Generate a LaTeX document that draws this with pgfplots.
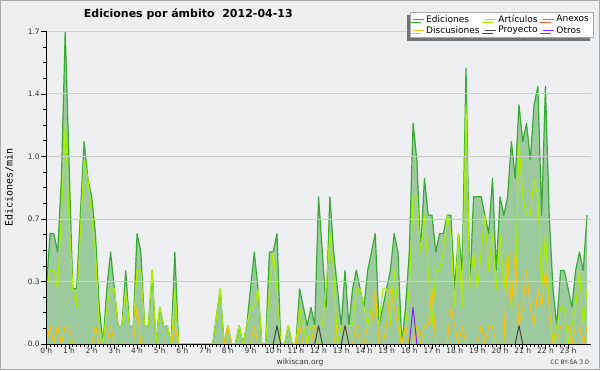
\documentclass[border=0pt]{standalone}
\usepackage{fontspec}
\setmainfont{DejaVu Sans}
\setmonofont{DejaVu Sans Mono}
\usepackage{pgfplots}
\usepackage{pgfplotstable}
\pgfplotsset{compat=1.18}
\usetikzlibrary{shadows}
\definecolor{Bg}{RGB}{238,239,241}
\definecolor{Bord}{RGB}{170,170,170}
\definecolor{Grid}{RGB}{205,205,205}
\definecolor{Efill}{RGB}{60,160,60}
\definecolor{Eline}{RGB}{55,170,55}
\definecolor{Aline}{RGB}{170,238,0}
\definecolor{Dline}{RGB}{250,195,10}
\definecolor{Pline}{RGB}{70,70,70}
\definecolor{Oline}{RGB}{136,34,238}
\definecolor{Xline}{RGB}{238,102,51}

\pgfplotstableread{
i E A D
0 0.3 0.3 0
1 0.6 0.4 0.1
2 0.6 0.4 0
3 0.5 0.3 0.1
4 0.9 0.7 0
5 1.7 1.2 0.1
6 1.0 0.7 0.1
7 0.3 0.3 0
8 0.3 0.2 0
9 0.7 0.6 0
10 1.1 1.0 0
11 0.9 0.9 0
12 0.8 0.7 0
13 0.6 0.5 0.1
14 0.2 0.1 0
15 0 0 0
16 0.3 0.2 0
17 0.5 0.3 0.1
18 0.3 0.3 0
19 0.1 0.1 0
20 0.1 0.1 0
21 0.4 0.3 0
22 0.1 0.1 0
23 0.1 0.1 0
24 0.6 0.4 0.2
25 0.5 0.4 0
26 0.1 0.1 0
27 0.1 0.1 0
28 0.4 0.4 0
29 0 0 0
30 0.2 0.2 0
31 0.1 0.1 0
32 0.1 0.1 0
33 0 0 0
34 0.5 0.3 0.1
35 0 0 0
36 0 0 0
37 0 0 0
38 0 0 0
39 0 0 0
40 0 0 0
41 0 0 0
42 0 0 0
43 0 0 0
44 0 0 0
45 0.15 0.15 0
46 0.3 0.3 0
47 0 0 0
48 0.1 0.1 0.1
49 0 0 0
50 0 0 0
51 0.1 0.1 0
52 0 0 0
53 0.1 0.1 0
54 0.3 0.2 0
55 0.5 0.2 0.1
56 0.3 0.3 0
57 0 0 0
58 0 0 0
59 0.5 0.3 0
60 0.5 0.5 0
61 0.6 0.3 0
62 0 0 0
63 0 0 0
64 0.1 0.1 0
65 0 0 0
66 0 0 0
67 0.3 0.2 0.1
68 0.2 0.1 0
69 0.1 0 0
70 0.2 0.1 0
71 0.1 0.1 0.1
72 0.8 0.1 0
73 0.5 0.1 0
74 0.2 0.3 0
75 0.8 0.6 0
76 0.5 0.4 0
77 0.3 0 0.1
78 0.1 0.1 0.1
79 0.4 0.1 0.1
80 0.1 0.1 0
81 0.3 0.1 0
82 0.4 0.3 0.1
83 0.3 0.3 0
84 0.2 0.2 0
85 0.4 0.1 0.1
86 0.5 0.2 0.1
87 0.6 0.2 0.3
88 0.1 0.1 0
89 0.2 0.3 0
90 0.3 0.3 0.1
91 0.4 0.1 0.3
92 0.6 0.4 0.2
93 0.5 0.2 0.1
94 0 0 0
95 0.2 0.1 0.1
96 0.5 0.3 0
97 1.2 0.8 0
98 1.0 0.8 0.1
99 0.5 0.5 0
100 0.9 0.7 0.1
101 0.7 0.4 0.1
102 0.7 0.1 0.3
103 0.5 0.4 0
104 0.6 0.4 0
105 0.6 0.5 0
106 0.7 0.7 0
107 0.7 0.6 0.2
108 0.3 0.2 0.1
109 0.6 0.6 0
110 0.4 0.2 0.1
111 1.5 1.3 0
112 0.3 0.3 0
113 0.8 0.5 0
114 0.8 0.3 0
115 0.8 0.5 0.1
116 0.7 0.7 0
117 0.6 0.4 0.1
118 0.9 0.6 0.1
119 0.4 0.3 0
120 0.8 0.6 0
121 0.7 0.3 0
122 0.8 0.5 0.5
123 1.1 0.2 0.2
124 0.9 0.2 0.5
125 1.3 1.1 0.1
126 1.1 0.8 0.2
127 1.2 0.7 0.4
128 1.0 0.7 0.2
129 1.3 0.9 0.1
130 1.4 0.8 0.3
131 0.7 0.3 0.2
132 1.4 0.6 0.4
133 0.7 0.2 0.2
134 0.3 0 0
135 0.1 0.1 0
136 0.4 0.2 0.1
137 0.4 0.2 0.1
138 0.3 0 0.1
139 0.2 0.1 0
140 0.4 0.2 0.1
141 0.5 0.4 0.1
142 0.4 0.1 0
143 0.7 0.3 0.1
}\datatable

\begin{document}
\begin{tikzpicture}
\fill[Bg] (0,0) rectangle (600pt,370pt);
\draw[Bord, line width=1pt] (0.5pt,0.5pt) rectangle (599.5pt,369.5pt);
\begin{axis}[
  at={(46.3pt,26pt)}, anchor=south west,
  scale only axis, width=544.5pt, height=312.7pt,
  xmin=0, xmax=144, ymin=0, ymax=1.7,
  axis on top,
  axis lines*=left,
  axis line style={black, line width=0.9pt},
  tick style={black, line width=0.6pt},
  tick align=outside,
  major tick length=5pt, minor tick length=3pt,
  xtick={0,6,...,138},
  xticklabels={0 h,1 h,2 h,3 h,4 h,5 h,6 h,7 h,8 h,9 h,10 h,11 h,12 h,13 h,14 h,15 h,16 h,17 h,18 h,19 h,20 h,21 h,22 h,23 h},
  minor x tick num=5,
  ytick={0,0.34,0.68,1.02,1.36,1.7},
  yticklabels={0.0,0.3,0.7,1.0,1.4,1.7},
  minor y tick num=3,
  ymajorgrids, grid style={Grid, line width=0.8pt},
  tick label style={font=\fontsize{7.5}{8}\selectfont, text=black!80},
  xticklabel style={yshift=4.5pt},
  yticklabel style={xshift=2pt},
  ylabel={Ediciones/min},
  ylabel style={at={(axis description cs:-0.0681,0.5)}, anchor=center, font=\ttfamily\fontsize{10}{10}\selectfont},
  title={Ediciones por ámbito\hspace{0.7em}2012-04-13},
  title style={at={(axis description cs:0.2608,1.0361)}, anchor=center, font=\bfseries\fontsize{11}{11}\selectfont},
  legend columns=3,
  legend cell align=left,
  legend style={at={(axis description cs:1.0046,1.0627)}, anchor=north east,
    draw=Bord, fill=white, line width=0.8pt,
    font=\fontsize{9}{9}\selectfont,
    inner xsep=2pt, inner ysep=1pt,
    row sep=-1.5pt,
    /tikz/every even column/.append style={column sep=3pt},
    drop shadow={shadow xshift=-3pt, shadow yshift=-3pt, fill=black!55, opacity=1}},
  legend image code/.code={\draw[#1, line width=0.8pt] (0pt,0pt) -- (11pt,0pt);},
  unbounded coords=jump,
]
\addplot[draw=none, fill=Efill, fill opacity=0.45, forget plot] table[x=i, y=E]{\datatable} \closedcycle;
\addplot[Eline, line width=1.2pt, line join=round] table[x=i, y=E]{\datatable};
\addlegendentry{Ediciones}
\addplot[Aline, line width=1.1pt, line join=round] table[x=i, y=A]{\datatable};
\addlegendentry{Artículos}
\addlegendimage{Xline}
\addlegendentry{Anexos}
\addplot[Dline, line width=1pt, line join=round] table[x=i, y=D]{\datatable};
\addlegendentry{Discusiones}
\addplot[Pline, line width=1pt, line join=round] coordinates {(60,0) (61,0.1) (62,0) (66,nan) (71,0) (72,0.1) (73,0) (76,nan) (78,0) (79,0.1) (80,0) (100,nan) (124,0) (125,0.1) (126,0)};
\addlegendentry{Proyecto}
\addplot[Oline, line width=1pt, line join=round] coordinates {(96,0) (97,0.2) (98,0)};
\addlegendentry{Otros}
\end{axis}
\node[font=\fontsize{7.5}{8}\selectfont, text=black!80] at (300pt,8pt) {wikiscan.org};
\node[font=\fontsize{6}{6}\selectfont, text=black!80] at (569.7pt,7.5pt) {CC BY-SA 3.0};
\end{tikzpicture}
\end{document}
